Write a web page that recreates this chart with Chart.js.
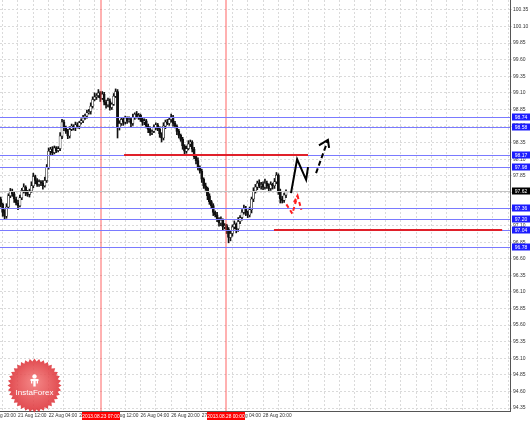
<!DOCTYPE html>
<html lang="en">
  <head>
    <meta charset="UTF-8" />
    <script src="https://cdn.jsdelivr.net/npm/chart.js@4.4.1/dist/chart.umd.min.js"></script>
    <title>USDJPY H1</title>
    <style>
      html, body { margin: 0; padding: 0; background: #fff; }
    </style>
  </head>
  <body>
    <canvas id="myChart" width="531" height="422"></canvas>
    <script>
      // hourly candles, index 0 = 20 Aug 20:00 (weekend hours skipped)
      const firstIdx = 7;
      const firstOpen = 97.5;
      const closes = [
        97.42, 97.30, 97.24, 97.38, 97.55,
        97.62, 97.58, 97.50, 97.44, 97.40,
        97.52, 97.63, 97.68, 97.60, 97.57,
        97.62, 97.70, 97.84, 97.78, 97.72,
        97.76, 97.74, 97.70, 97.78, 97.98,
        98.22, 98.25, 98.20, 98.27, 98.23,
        98.26, 98.45, 98.66, 98.58, 98.52,
        98.45, 98.55, 98.60, 98.57, 98.62,
        98.60, 98.65, 98.68, 98.72, 98.75,
        98.80, 98.82, 98.90, 99.00, 99.04,
        99.06, 99.10, 99.02, 99.08, 98.96,
        98.92, 98.98, 98.88, 98.93, 99.05,
        99.12, 98.58, 98.64, 98.70, 98.66,
        98.72, 98.68, 98.70, 98.64, 98.73,
        98.78, 98.74, 98.76, 98.70, 98.66,
        98.68, 98.60, 98.55, 98.50, 98.52,
        98.58, 98.62, 98.56, 98.48, 98.42,
        98.60, 98.66, 98.64, 98.70, 98.74,
        98.64, 98.60, 98.52, 98.46, 98.40,
        98.30, 98.22, 98.26, 98.33, 98.36,
        98.25, 98.14, 98.08, 97.98, 97.92,
        97.80, 97.70, 97.66, 97.55, 97.46,
        97.40, 97.30, 97.26, 97.20, 97.14,
        97.18, 97.08, 97.10, 97.04, 96.92,
        96.98, 97.08, 97.12, 97.05, 97.16,
        97.22, 97.30, 97.36, 97.30, 97.26,
        97.34, 97.50, 97.62, 97.68, 97.74,
        97.70, 97.72, 97.68, 97.74, 97.70,
        97.66, 97.72, 97.70, 97.76, 97.86,
        97.62, 97.50, 97.48, 97.56, 97.62
      ];
      const wickUp = [
        .03, .02, .04, .05, .03,  .04, .03, .02, .03, .04,
        .04, .03, .05, .02, .03,  .03, .06, .05, .02, .03,
        .03, .02, .04, .05, .04,  .05, .03, .04, .03, .02,
        .03, .05, .04, .03, .02,  .03, .04, .03, .02, .04,
        .03, .02, .03, .04, .03,  .04, .03, .05, .04, .06,
        .03, .05, .02, .04, .03,  .03, .04, .03, .02, .04,
        .04, .03, .04, .03, .02,  .03, .02, .04, .03, .05,
        .02, .04, .03, .02, .03,  .03, .02, .03, .04, .02,
        .04, .03, .02, .03, .02,  .05, .03, .04, .03, .04,
        .02, .03, .02, .03, .02,  .03, .02, .04, .05, .03,
        .02, .03, .02, .04, .02,  .03, .02, .04, .02, .03,
        .02, .03, .02, .04, .02,  .05, .02, .03, .02, .03,
        .04, .03, .05, .02, .06,  .03, .04, .05, .03, .02,
        .04, .03, .05, .04, .03,  .05, .03, .04, .06, .03,
        .03, .04, .02, .05, .04,  .02, .03, .04, .03, .02
      ];
      const wickDn = [
        .04, .06, .05, .03, .02,  .03, .04, .05, .03, .06,
        .02, .03, .04, .05, .03,  .04, .02, .03, .05, .03,
        .03, .04, .05, .02, .03,  .03, .05, .04, .02, .03,
        .02, .03, .04, .05, .03,  .04, .03, .02, .03, .04,
        .03, .04, .02, .03, .02,  .03, .02, .04, .03, .02,
        .04, .03, .05, .02, .04,  .05, .03, .04, .03, .02,
        .02, .16, .04, .03, .05,  .03, .04, .02, .05, .03,
        .03, .02, .04, .03, .05,  .04, .03, .05, .04, .03,
        .02, .04, .03, .05, .06,  .03, .04, .02, .03, .04,
        .04, .03, .05, .04, .03,  .05, .06, .03, .02, .04,
        .04, .03, .05, .04, .03,  .05, .04, .03, .06, .04,
        .04, .05, .03, .04, .05,  .04, .05, .03, .06, .08,
        .05, .04, .03, .06, .04,  .03, .04, .03, .05, .04,
        .03, .05, .04, .03, .04,  .03, .05, .04, .03, .04,
        .04, .03, .05, .04, .03,  .05, .06, .04, .03, .04
      ];

      const xTickIdx = [0, 16, 32, 48, 64, 80, 96, 112, 128, 144];
      const xTickText = ["20 Aug 20:00", "21 Aug 12:00", "22 Aug 04:00", "22 Aug 20:00", "23 Aug 12:00",
        "26 Aug 04:00", "26 Aug 20:00", "27 Aug 12:00", "28 Aug 04:00", "28 Aug 20:00"];
      const yTicks = [100.35, 100.10, 99.85, 99.60, 99.35, 99.10, 98.85, 98.60, 98.35, 98.10, 97.85, 97.60,
        97.35, 97.10, 96.85, 96.60, 96.35, 96.10, 95.85, 95.60, 95.35, 95.10, 94.85, 94.60, 94.35];

      const blueLevels = [98.74, 98.58, 98.17, 97.98, 97.36, 97.20, 97.04, 96.78];
      const lastPrice = 97.62;
      const vLineIdx = [59.3, 124.7];
      const vLineText = ["2013.08.23 07:00", "2013.08.28 00:00"];
      const redLines = [[71.4, 167.5, 98.16], [149.7, 268.9, 97.03]];
      const blackSolid = [[158.6, 97.59], [161.8, 98.10], [166.5, 97.79], [167.5, 97.98]];
      const blackDash = [[171.7, 97.89], [177.9, 98.39]];
      const blackHead = [[173.2, 98.31], [177.9, 98.39], [178.5, 98.27]];
      const redDash = [[156.2, 97.42], [159.3, 97.28], [162, 97.55]];
      const redHead = [[160.2, 97.45], [162, 97.55], [164, 97.34]];

      const opens = closes.map((c, k) => (k ? closes[k - 1] : firstOpen));
      const wickData = closes.map((c, k) => ({
        x: firstIdx + k,
        y: [Math.min(opens[k], c) - wickDn[k], Math.max(opens[k], c) + wickUp[k]],
      }));
      const bodyData = closes.map((c, k) => ({ x: firstIdx + k, y: [opens[k], c] }));
      const bodyFill = closes.map((c, k) => (c >= opens[k] ? "#fff" : "#111"));

      const overlay = {
        id: "overlay",
        afterDatasetsDraw(chart) {
          const { ctx, chartArea: a, scales } = chart;
          const x = scales.x, y = scales.y;
          const px = (v) => x.getPixelForValue(v);
          const py = (v) => y.getPixelForValue(v);
          ctx.save();
          ctx.beginPath();
          ctx.rect(a.left, a.top, a.right - a.left, a.bottom - a.top);
          ctx.clip();

          // vertical red lines
          ctx.strokeStyle = "rgba(255,60,60,0.4)";
          ctx.lineWidth = 2;
          vLineIdx.forEach((v) => {
            ctx.beginPath();
            ctx.moveTo(Math.round(px(v)), a.top);
            ctx.lineTo(Math.round(px(v)), a.bottom);
            ctx.stroke();
          });

          // bid line
          ctx.lineWidth = 1;
          ctx.strokeStyle = "#c4c4c4";
          let yy = Math.round(py(lastPrice)) + 0.5;
          ctx.beginPath(); ctx.moveTo(a.left, yy); ctx.lineTo(a.right, yy); ctx.stroke();

          // blue levels
          ctx.strokeStyle = "#7a7aff";
          blueLevels.forEach((v) => {
            const yl = Math.round(py(v)) + 0.5;
            ctx.beginPath(); ctx.moveTo(a.left, yl); ctx.lineTo(a.right, yl); ctx.stroke();
          });

          // red horizontal segments
          ctx.strokeStyle = "#e0202a";
          ctx.lineWidth = 2;
          redLines.forEach(([i0, i1, v]) => {
            const yl = Math.round(py(v));
            ctx.beginPath(); ctx.moveTo(px(i0), yl); ctx.lineTo(px(i1), yl); ctx.stroke();
          });

          const poly = (pts, color, dash) => {
            ctx.strokeStyle = color;
            ctx.setLineDash(dash);
            ctx.beginPath();
            pts.forEach(([i, v], k) => (k ? ctx.lineTo(px(i), py(v)) : ctx.moveTo(px(i), py(v))));
            ctx.stroke();
          };
          ctx.lineWidth = 2;
          poly(blackSolid, "#000", []);
          poly(blackDash, "#000", [5, 3]);
          poly(blackHead, "#000", []);
          poly(redDash, "#ff2020", [4, 3]);
          poly(redHead, "#ff2020", [4, 3]);
          ctx.restore();
        },
        afterDraw(chart) {
          const { ctx, chartArea: a, scales } = chart;
          const x = scales.x, y = scales.y;
          ctx.save();
          ctx.font = "5px 'Liberation Sans'";
          ctx.textAlign = "center";
          ctx.textBaseline = "middle";

          // price boxes on the right axis
          const box = (v, bg) => {
            const yc = Math.round(y.getPixelForValue(v));
            ctx.fillStyle = bg;
            ctx.fillRect(a.right + 2, yc - 3.5, 18, 7);
            ctx.fillStyle = "#fff";
            ctx.fillText(v.toFixed(2), a.right + 11, yc + 0.5);
          };
          blueLevels.forEach((v) => box(v, "#1c1cff"));
          box(lastPrice, "#000");

          // time boxes under the vertical lines
          ctx.font = "4.8px 'Liberation Sans'";
          vLineIdx.forEach((v, k) => {
            const xc = Math.round(x.getPixelForValue(v));
            ctx.fillStyle = "#ff0000";
            ctx.fillRect(xc - 19, a.bottom + 1, 38, 8);
            ctx.fillStyle = "#fff";
            ctx.fillText(vLineText[k], xc, a.bottom + 5.5);
          });

          // InstaForex seal
          const cx = 34.5, cy = 385.5;
          const grad = ctx.createRadialGradient(cx, cy - 4, 3, cx, cy, 27);
          grad.addColorStop(0, "#f07070");
          grad.addColorStop(1, "#dc3036");
          ctx.fillStyle = grad;
          ctx.globalAlpha = 0.88;
          ctx.beginPath();
          const n = 36;
          for (let k = 0; k < n * 2; k++) {
            const r = k % 2 ? 24 : 27;
            const ang = (Math.PI * k) / n;
            const ex = cx + r * Math.cos(ang), ey = cy + r * Math.sin(ang);
            k ? ctx.lineTo(ex, ey) : ctx.moveTo(ex, ey);
          }
          ctx.closePath();
          ctx.fill();
          ctx.globalAlpha = 1;
          ctx.fillStyle = "#fff";
          ctx.beginPath();
          ctx.arc(cx, cy - 9, 2.2, 0, Math.PI * 2);
          ctx.fill();
          ctx.fillRect(cx - 4, cy - 6.5, 8, 2);
          ctx.fillRect(cx - 1.2, cy - 5, 2.4, 6);
          ctx.fillRect(cx - 3.5, cy - 5, 1.3, 3);
          ctx.fillRect(cx + 2.2, cy - 5, 1.3, 3);
          ctx.font = "8px 'Liberation Sans'";
          ctx.fillText("InstaForex", cx, cy + 7.5);
          ctx.restore();
        },
      };

      const ctx = document.getElementById("myChart").getContext("2d");
      const myChart = new Chart(ctx, {
        type: "bar",
        data: {
          datasets: [
            {
              data: wickData,
              backgroundColor: "#111",
              barThickness: 1,
              grouped: false,
              order: 2,
            },
            {
              data: bodyData,
              backgroundColor: bodyFill,
              borderColor: "#111",
              borderWidth: 0.6,
              borderSkipped: false,
              barThickness: 2.2,
              minBarLength: 1,
              grouped: false,
              order: 1,
            },
          ],
        },
        options: {
          responsive: false,
          animation: false,
          layout: { padding: 0 },
          plugins: {
            legend: { display: false },
            tooltip: { enabled: false },
          },
          scales: {
            x: {
              type: "linear",
              min: 6.6,
              max: 273,
              offset: false,
              grid: { color: "#dadada", offset: false, drawTicks: false },
              border: { color: "#555", dash: [2, 2] },
              ticks: {
                autoSkip: false,
                maxRotation: 0,
                minRotation: 0,
                align: "start",
                padding: 2,
                color: "#333",
                font: { family: "'Liberation Sans'", size: 4.8 },
                callback: (v) => {
                  const k = xTickIdx.indexOf(v);
                  return k >= 0 ? xTickText[k] : "";
                },
              },
              afterBuildTicks: (scale) => {
                const t = [];
                for (let v = 0; v <= 272; v += 8) t.push({ value: v });
                scale.ticks = t;
              },
              afterFit: (scale) => {
                scale.height = 11;
                scale.paddingLeft = 0;
                scale.paddingRight = 0;
              },
            },
            y: {
              position: "right",
              min: 94.305,
              max: 100.5,
              grid: { color: "#dadada", tickLength: 2 },
              border: { color: "#555", dash: [2, 2] },
              ticks: {
                padding: 1,
                color: "#333",
                font: { family: "'Liberation Sans'", size: 5 },
                callback: (v) => v.toFixed(2),
              },
              afterBuildTicks: (scale) => {
                scale.ticks = yTicks.map((v) => ({ value: v }));
              },
              afterFit: (scale) => {
                scale.width = 21;
                scale.paddingTop = 0;
                scale.paddingBottom = 0;
              },
            },
          },
        },
        plugins: [overlay],
      });
    </script>
  </body>
</html>
